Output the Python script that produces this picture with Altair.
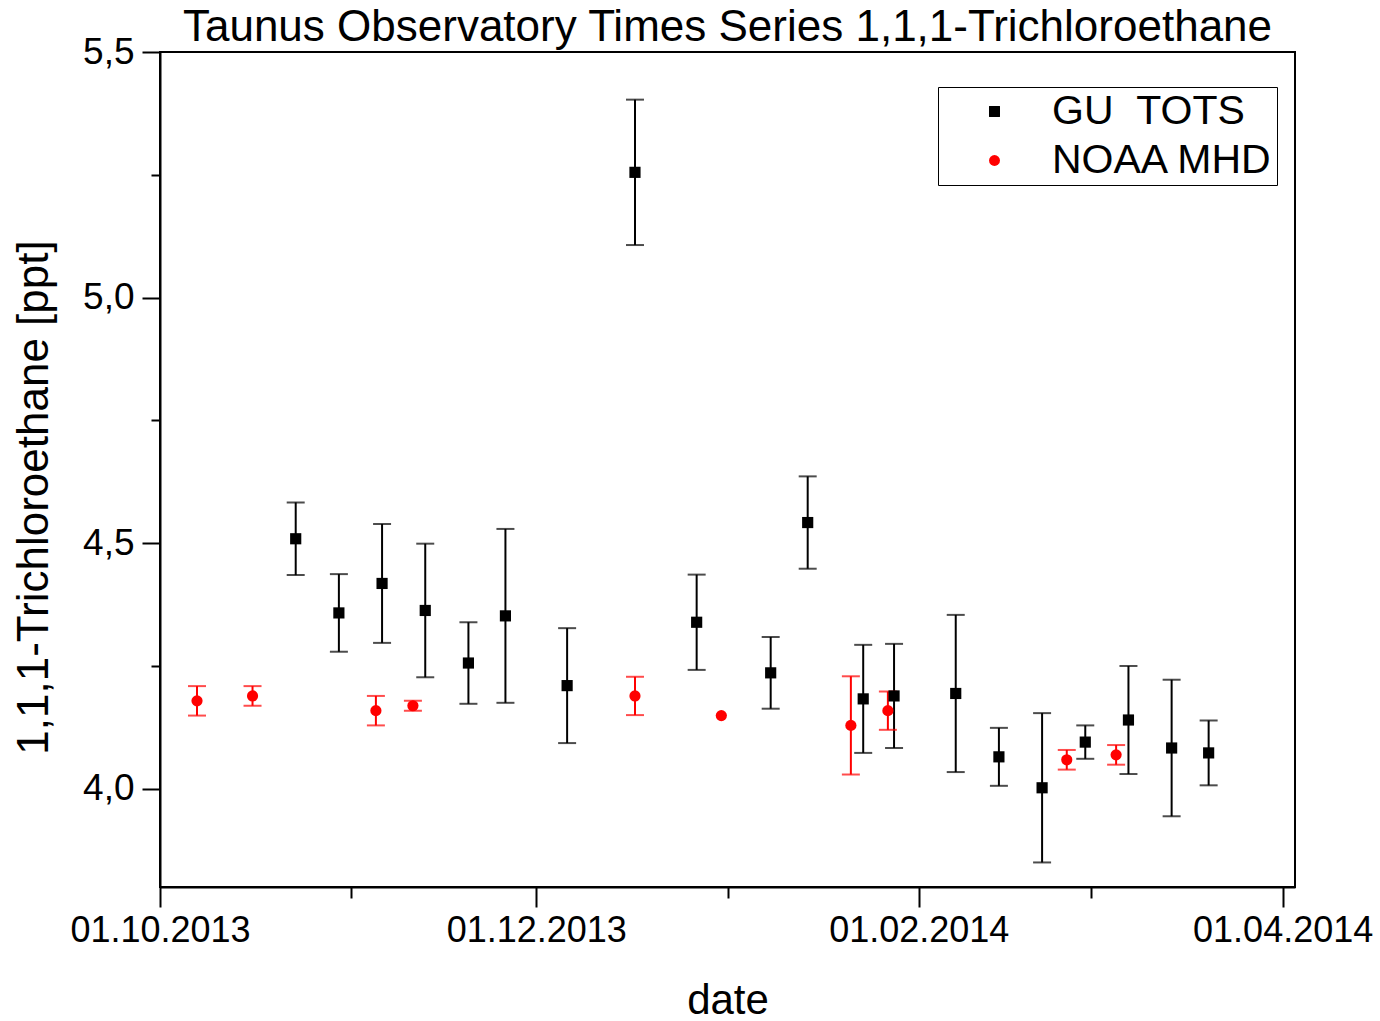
import altair as alt
import pandas as pd

# ---- data ----
gu_name = "GU\u00a0\u00a0TOTS"
noaa_name = "NOAA MHD"

gu_dates = ["2013-10-23", "2013-10-30", "2013-11-06", "2013-11-13", "2013-11-20",
            "2013-11-26", "2013-12-06", "2013-12-17", "2013-12-27", "2014-01-08",
            "2014-01-14", "2014-01-23", "2014-01-28", "2014-02-07", "2014-02-14",
            "2014-02-21", "2014-02-28", "2014-03-07", "2014-03-14", "2014-03-20"]
gu_values = [4.509, 4.358, 4.418, 4.363, 4.256, 4.352, 4.210, 5.255, 4.339, 4.236,
             4.542, 4.183, 4.189, 4.194, 4.065, 4.002, 4.095, 4.140, 4.083, 4.073]
gu_errors = [0.074, 0.079, 0.121, 0.136, 0.083, 0.177, 0.117, 0.148, 0.097, 0.073,
             0.094, 0.110, 0.106, 0.160, 0.059, 0.152, 0.034, 0.110, 0.139, 0.066]

noaa_dates = ["2013-10-07", "2013-10-16", "2013-11-05", "2013-11-11", "2013-12-17",
              "2013-12-31", "2014-01-21", "2014-01-27", "2014-02-25", "2014-03-05"]
noaa_values = [4.179, 4.189, 4.159, 4.169, 4.189, 4.149, 4.129, 4.159, 4.059, 4.069]
noaa_errors = [0.030, 0.020, 0.030, 0.010, 0.039, 0.0, 0.100, 0.039, 0.020, 0.020]

y_tick_values = [4.0, 4.25, 4.5, 4.75, 5.0, 5.25, 5.5]

FONT = "Liberation Sans"

df = pd.concat([
    pd.DataFrame({"date": noaa_dates, "value": noaa_values, "err": noaa_errors, "series": noaa_name}),
    pd.DataFrame({"date": gu_dates, "value": gu_values, "err": gu_errors, "series": gu_name}),
], ignore_index=True)

series_domain = [gu_name, noaa_name]
color_scale = alt.Scale(domain=series_domain, range=["black", "#ff0000"])
shape_scale = alt.Scale(domain=series_domain, range=["square", "circle"])

x_months = [alt.DateTime(year=2013, month=m, date=1, utc=True) for m in (10, 11, 12)] + \
           [alt.DateTime(year=2014, month=m, date=1, utc=True) for m in (1, 2, 3, 4)]

x_enc = alt.X(
    "date:T",
    title="date",
    scale=alt.Scale(type="utc",
                    domain=[alt.DateTime(year=2013, month=10, date=1, utc=True),
                            alt.DateTime(year=2014, month=4, date=3, utc=True)]),
    axis=alt.Axis(
        values=x_months,
        labelExpr="utcmonth(datum.value) % 2 == 1 ? utcFormat(datum.value, '%d.%m.%Y') : ''",
        tickSize={"condition": {"test": "utcmonth(datum.value) % 2 == 1", "value": 20}, "value": 11},
        grid=False,
        labelFont=FONT, labelFontSize=36, labelColor="black", labelPadding=6,
        labelOverlap=False, labelFlush=False, labelLimit=0,
        titleFont=FONT, titleFontSize=42, titleFontWeight="normal", titleColor="black",
        titleBaseline="alphabetic", titleY=126, titleX=567.5,
        domainColor="black", domainWidth=2, tickColor="black", tickWidth=2,
    ),
)

y_axis = alt.Axis(
    values=y_tick_values,
    labelExpr="round(datum.value * 4) % 2 == 0 ? replace(format(datum.value, '.1f'), '.', ',') : ''",
    tickSize={"condition": {"test": "round(datum.value * 4) % 2 == 0", "value": 18}, "value": 9},
    grid=False,
    labelFont=FONT, labelFontSize=37, labelColor="black", labelPadding=8,
    labelOverlap=False, labelFlush=False, labelLimit=0,
    titleFont=FONT, titleFontSize=44, titleFontWeight="normal", titleColor="black",
    titleAngle=270, titleBaseline="alphabetic", titleAlign="center",
    titleX=-113, titleY=445,
    domainColor="black", domainWidth=2, tickColor="black", tickWidth=2,
)
y_scale = alt.Scale(domain=[3.8, 5.5], nice=False, zero=False)

bar_color = alt.condition(f"datum.series == '{noaa_name}'", alt.value("#ff0000"), alt.value("black"))

base = alt.Chart(df)

bars = base.transform_filter("datum.err > 0").transform_calculate(
    lo="datum.value - datum.err", hi="datum.value + datum.err")

rules = bars.mark_rule(strokeWidth=2).encode(
    x=x_enc,
    y=alt.Y("lo:Q", scale=y_scale, axis=y_axis, title="1,1,1-Trichloroethane [ppt]"),
    y2="hi:Q",
    color=bar_color,
)
caps_lo = bars.mark_tick(orient="horizontal", size=18, thickness=2).encode(
    x=x_enc, y=alt.Y("lo:Q", scale=y_scale), color=bar_color,
)
caps_hi = bars.mark_tick(orient="horizontal", size=18, thickness=2).encode(
    x=x_enc, y=alt.Y("hi:Q", scale=y_scale), color=bar_color,
)

legend = alt.Legend(
    orient="none", legendX=778, legendY=35, title=None,
    labelFont=FONT, labelFontSize=41, labelColor="black", labelLimit=0,
    strokeColor="black", padding=4, rowPadding=7,
    symbolOffset=32, labelOffset=37, symbolSize=120, symbolStrokeWidth=0,
)
points = base.mark_point(filled=True, size=125, opacity=1, strokeWidth=0).encode(
    x=x_enc,
    y=alt.Y("value:Q", scale=y_scale),
    color=alt.Color("series:N", scale=color_scale, legend=legend),
    shape=alt.Shape("series:N", scale=shape_scale, legend=legend),
)

chart = alt.layer(rules, caps_lo, caps_hi, points).properties(
    width=1135, height=835,
    autosize=alt.AutoSizeParams(type="none"),
    padding={"left": 160, "top": 52, "right": 85, "bottom": 134},
    background="white",
    title=alt.TitleParams(
        text="Taunus Observatory Times Series 1,1,1-Trichloroethane",
        font=FONT, fontSize=44, fontWeight="normal", color="black",
        anchor="middle", frame="group", baseline="bottom", offset=5, dy=66,
    ),
).configure_view(stroke="black", strokeWidth=2)

chart.save("out.html", embed_options={"renderer": "svg", "actions": False})
